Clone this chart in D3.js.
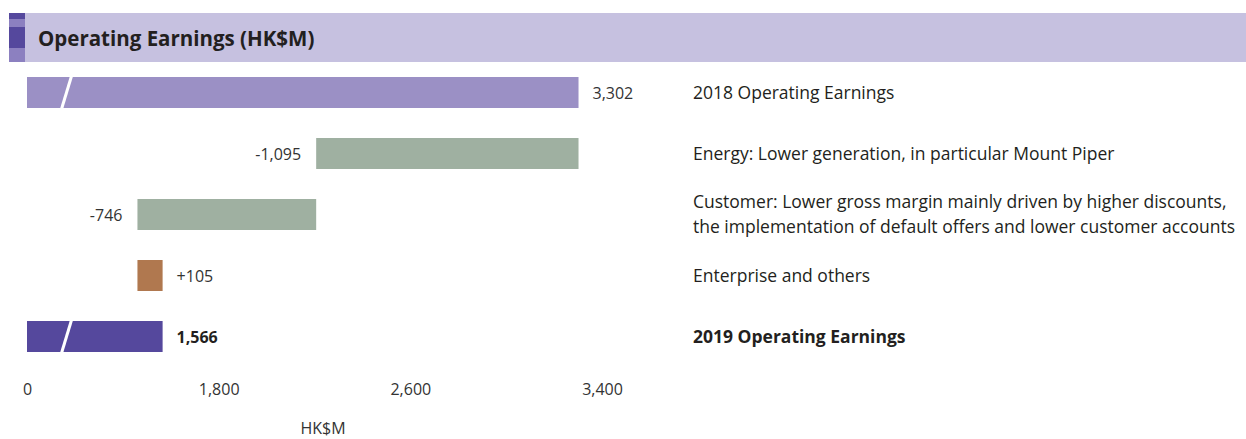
<!DOCTYPE html>
<html>
<head>
<meta charset="utf-8">
<script src="https://cdn.jsdelivr.net/npm/d3@7"></script>
<style>
    body { margin: 0; background: #fff; }
    text { font-family: "Open Sans", sans-serif; fill: #231f20; }
    .tick text { font-size: 16px; fill: #333; }
</style>
</head>
<body>
<div class="chart"></div>
<script>
// waterfall rows, top to bottom
const rowLabels = [
    ["2018 Operating Earnings"],
    ["Energy: Lower generation, in particular Mount Piper"],
    ["Customer: Lower gross margin mainly driven by higher discounts,", "the implementation of default offers and lower customer accounts"],
    ["Enterprise and others"],
    ["2019 Operating Earnings"]
];
const rowValues = [3302, -1095, -746, 105, 1566];
const rowKinds = ["start", "delta", "delta", "delta", "end"];
const valueLabels = ["3,302", "-1,095", "-746", "+105", "1,566"];

// broken axis: the first tick stands for the break and is labelled 0
const tickValues = [1000, 1800, 2600, 3400];
const tickLabels = ["0", "1,800", "2,600", "3,400"];
const axisTitle = "HK$M";
const chartTitle = "Operating Earnings (HK$M)";

function drawChart() {
    const w = 1246, h = 439;
    const breakValue = 1165;

    // compute waterfall start / end for each row
    var running = 0;
    const rows = rowValues.map((v, i) => {
        var from, to;
        if (rowKinds[i] === "delta") {
            from = running;
            to = running + v;
            running = to;
        } else {
            from = tickValues[0];
            to = v;
            running = v;
        }
        return { i: i, v: v, kind: rowKinds[i], x0: Math.min(from, to), x1: Math.max(from, to), label: valueLabels[i], text: rowLabels[i] };
    });

    const colorFor = d => {
        if (d.kind === "start") return "#9b90c5";
        if (d.kind === "end") return "#55489d";
        return d.v < 0 ? "#9fb0a1" : "#b0784f";
    };

    var svg = d3.select(".chart")
        .append("svg")
        .attr("width", w)
        .attr("height", h);

    // header band
    svg.append("rect")
        .attr("x", 9).attr("y", 13)
        .attr("width", w - 9).attr("height", 49)
        .attr("fill", "#c6c1e0");

    const accents = [[13, 6, "#55489d"], [19, 8, "#8c80c0"], [27, 21, "#55489d"], [48, 14, "#8c80c0"]];
    svg.selectAll(".accent")
        .data(accents)
        .enter().append("rect")
        .attr("class", "accent")
        .attr("x", 9).attr("width", 16)
        .attr("y", d => d[0]).attr("height", d => d[1])
        .attr("fill", d => d[2]);

    svg.append("text")
        .attr("x", 38).attr("y", 46)
        .style("font-size", "20.5px")
        .style("font-weight", "bold")
        .text(chartTitle);

    var xScale = d3.scaleLinear()
        .domain([tickValues[0], tickValues[tickValues.length - 1]])
        .range([27, 602]);

    var yScale = d3.scaleBand()
        .domain(d3.range(rows.length))
        .range([77, 352])
        .paddingInner(30 / 61)
        .paddingOuter(0);

    const bw = yScale.bandwidth();

    // bars
    svg.selectAll(".bar")
        .data(rows)
        .enter().append("rect")
        .attr("class", "bar")
        .attr("x", d => xScale(d.x0))
        .attr("y", d => yScale(d.i))
        .attr("width", d => xScale(d.x1) - xScale(d.x0))
        .attr("height", bw)
        .attr("fill", colorFor);

    // axis break slashes on the total bars
    svg.selectAll(".slash")
        .data(rows.filter(d => d.kind !== "delta"))
        .enter().append("line")
        .attr("class", "slash")
        .attr("x1", xScale(breakValue) - 5)
        .attr("y1", d => yScale(d.i) + bw + 1)
        .attr("x2", xScale(breakValue) + 5)
        .attr("y2", d => yScale(d.i) - 1)
        .attr("stroke", "#fff")
        .attr("stroke-width", 3);

    // value labels
    svg.selectAll(".value")
        .data(rows)
        .enter().append("text")
        .attr("class", "value")
        .attr("x", d => d.v < 0 ? xScale(d.x0) - 15 : xScale(d.x1) + 14)
        .attr("y", d => yScale(d.i) + bw / 2 + 6)
        .attr("text-anchor", d => d.v < 0 ? "end" : "start")
        .style("font-size", "16px")
        .style("font-weight", d => d.kind === "end" ? "bold" : "normal")
        .style("fill", d => d.kind === "end" ? "#231f20" : "#333")
        .text(d => d.label);

    // row descriptions on the right
    var desc = svg.selectAll(".desc")
        .data(rows)
        .enter().append("text")
        .attr("class", "desc")
        .attr("x", 693)
        .attr("y", d => yScale(d.i) + bw / 2 + 6 - (d.text.length - 1) * 12.5)
        .style("font-size", "17.5px")
        .style("font-weight", d => d.kind === "end" ? "bold" : "normal");

    desc.selectAll("tspan")
        .data(d => d.text)
        .enter().append("tspan")
        .attr("x", 693)
        .attr("dy", (t, j) => j === 0 ? 0 : 25)
        .text(t => t);

    // x axis
    const xAxis = d3.axisBottom(xScale)
        .tickValues(tickValues)
        .tickSize(0)
        .tickFormat((d, i) => tickLabels[i]);

    var axisG = svg.append("g")
        .attr("transform", "translate(0, 395)")
        .call(xAxis);
    axisG.select(".domain").remove();
    axisG.selectAll("text").attr("y", 0).attr("dy", 0);

    svg.append("text")
        .attr("x", 323).attr("y", 434)
        .attr("text-anchor", "middle")
        .style("font-size", "16px")
        .style("fill", "#333")
        .text(axisTitle);
}

drawChart();
</script>
</body>
</html>
